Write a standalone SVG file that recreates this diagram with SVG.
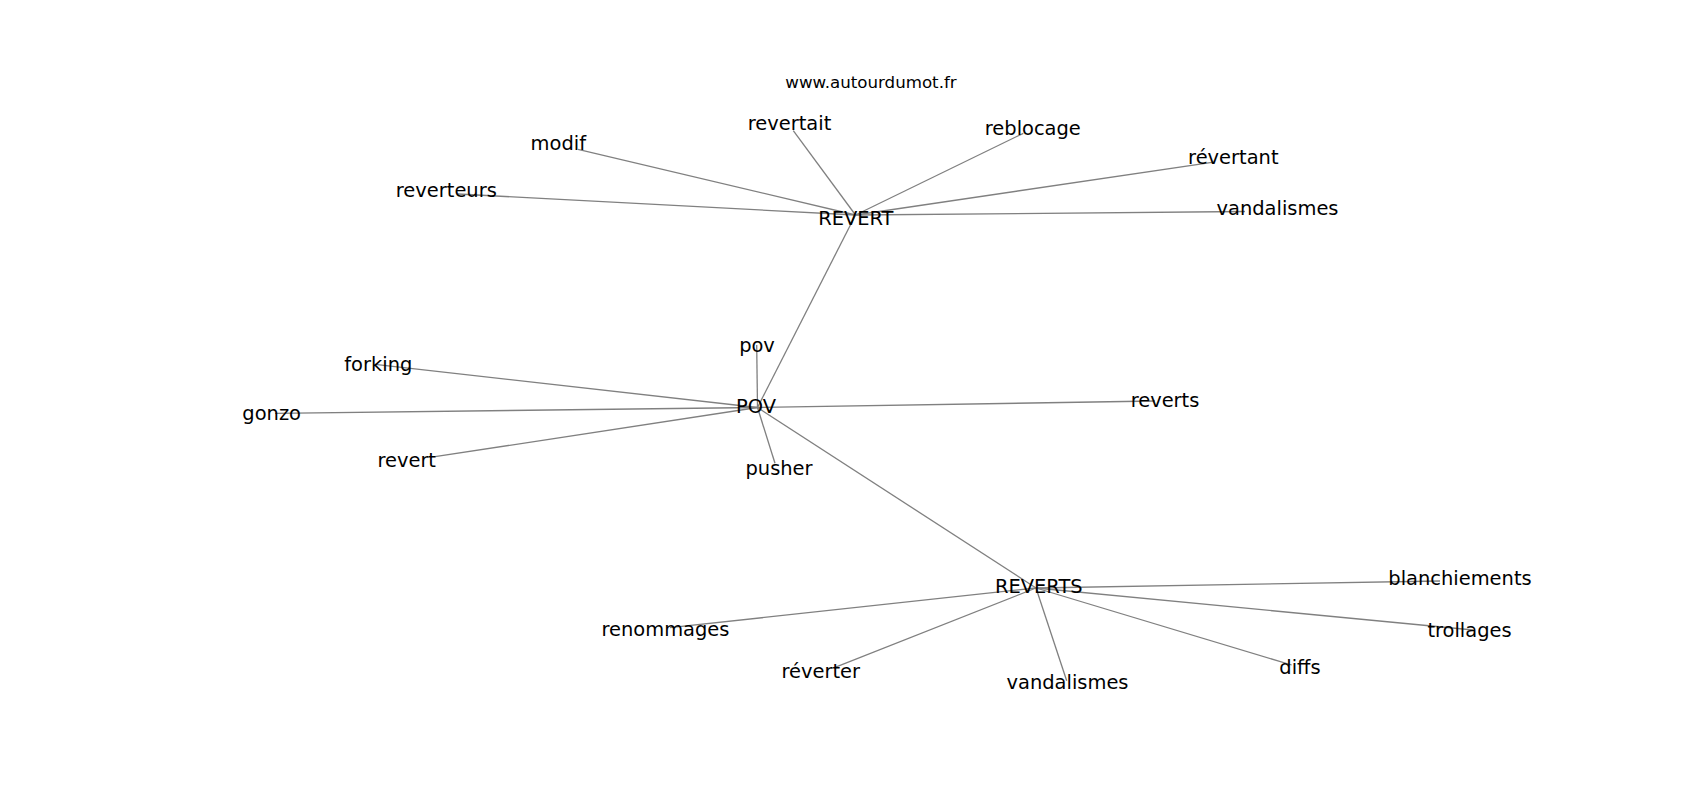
<svg xmlns="http://www.w3.org/2000/svg" width="1700" height="800" viewBox="0 0 1700 800">
<style>
.e{stroke:#808080;stroke-width:1.3;fill:none}
.n{font-family:"DejaVu Sans",sans-serif;font-size:19.44px;fill:#000;text-anchor:middle}
.t{font-family:"DejaVu Sans",sans-serif;font-size:16.67px;fill:#000;text-anchor:middle}
</style>
<rect width="1700" height="800" fill="#fff"/>
<text class="t" x="871" y="88">www.autourdumot.fr</text>
<g id="edges">
<line class="e" x1="855.5" y1="215" x2="793.3" y2="130.7"/>
<line class="e" x1="855.5" y1="215" x2="578" y2="149.3"/>
<line class="e" x1="855.5" y1="215" x2="458" y2="194"/>
<line class="e" x1="855.5" y1="215" x2="1023.3" y2="133.3"/>
<line class="e" x1="855.5" y1="215" x2="1212" y2="162.3"/>
<line class="e" x1="855.5" y1="215" x2="1245" y2="211.5"/>
<line class="e" x1="855.5" y1="215" x2="757.5" y2="407.5"/>
<line class="e" x1="757.5" y1="407.5" x2="756.7" y2="345"/>
<line class="e" x1="757.5" y1="407.5" x2="375" y2="364.3"/>
<line class="e" x1="757.5" y1="407.5" x2="275" y2="413.3"/>
<line class="e" x1="757.5" y1="407.5" x2="435" y2="456.7"/>
<line class="e" x1="757.5" y1="407.5" x2="775" y2="463.3"/>
<line class="e" x1="757.5" y1="407.5" x2="1155" y2="401"/>
<line class="e" x1="757.5" y1="407.5" x2="1036" y2="588"/>
<line class="e" x1="1036" y1="588" x2="670" y2="627.7"/>
<line class="e" x1="1036" y1="588" x2="835" y2="667.3"/>
<line class="e" x1="1036" y1="588" x2="1066.7" y2="680.7"/>
<line class="e" x1="1036" y1="588" x2="1291.7" y2="665"/>
<line class="e" x1="1036" y1="588" x2="1440" y2="581"/>
<line class="e" x1="1036" y1="588" x2="1473.3" y2="630"/>
</g>
<g id="n-REVERT"><text class="n" x="855.8" y="225">REVERT</text></g>
<g id="n-revertait"><text class="n" x="789.5" y="130">revertait</text></g>
<g id="n-modif"><text class="n" x="558.3" y="150">modif</text></g>
<g id="n-reverteurs"><text class="n" x="446.3" y="196.7">reverteurs</text></g>
<g id="n-reblocage"><text class="n" x="1032.8" y="135">reblocage</text></g>
<g id="n-revertant"><text class="n" x="1233.3" y="164">révertant</text></g>
<g id="n-vandalismes1"><text class="n" x="1277.5" y="215">vandalismes</text></g>
<g id="n-POV"><text class="n" x="756" y="412.7">POV</text></g>
<g id="n-pov"><text class="n" x="757" y="351.7">pov</text></g>
<g id="n-forking"><text class="n" x="378.3" y="370.7">forking</text></g>
<g id="n-gonzo"><text class="n" x="271.7" y="420">gonzo</text></g>
<g id="n-revert"><text class="n" x="406.7" y="466.7">revert</text></g>
<g id="n-pusher"><text class="n" x="779" y="475">pusher</text></g>
<g id="n-reverts"><text class="n" x="1165" y="406.7">reverts</text></g>
<g id="n-REVERTS"><text class="n" x="1038.8" y="593.3">REVERTS</text></g>
<g id="n-renommages"><text class="n" x="665.5" y="636">renommages</text></g>
<g id="n-reverter"><text class="n" x="820.8" y="678.3">réverter</text></g>
<g id="n-vandalismes2"><text class="n" x="1067.5" y="689.3">vandalismes</text></g>
<g id="n-diffs"><text class="n" x="1300" y="674">diffs</text></g>
<g id="n-blanchiements"><text class="n" x="1460" y="584.7">blanchiements</text></g>
<g id="n-trollages"><text class="n" x="1469.5" y="637.3">trollages</text></g>
</svg>
